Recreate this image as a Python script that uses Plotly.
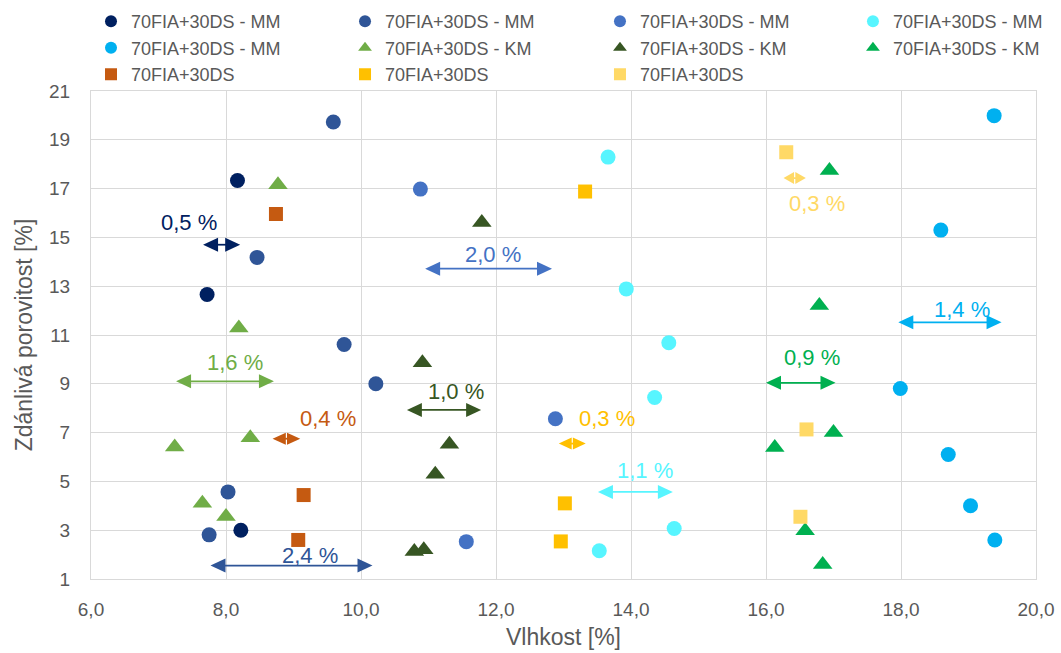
import plotly.graph_objects as go

# ---------------- data ----------------
series_names = ["70FIA+30DS - MM"] * 5 + ["70FIA+30DS - KM"] * 3 + ["70FIA+30DS"] * 3
series_colors = ["#002060", "#2F5597", "#4472C4", "#57F5FF", "#00B0F0",
                 "#70AD47", "#375623", "#00B050",
                 "#C55A11", "#FFC000", "#FFD966"]
series_symbols = ["circle"] * 5 + ["triangle-up"] * 3 + ["square"] * 3

mm1_x = [8.17, 7.72, 8.22]
mm1_y = [17.33, 12.66, 3.00]
mm2_x = [9.59, 8.46, 9.75, 10.22, 8.03, 7.75]
mm2_y = [19.73, 14.18, 10.61, 9.00, 4.57, 2.81]
mm3_x = [10.88, 12.88, 11.56]
mm3_y = [16.98, 7.57, 2.53]
mm4_x = [13.66, 13.93, 14.56, 14.35, 14.64, 13.53]
mm4_y = [18.29, 12.89, 10.68, 8.44, 3.07, 2.16]
mm5_x = [19.38, 18.59, 17.99, 18.70, 19.03, 19.39]
mm5_y = [19.99, 15.30, 8.81, 6.10, 4.00, 2.60]
km1_x = [8.77, 8.19, 8.36, 7.24, 7.65, 8.00]
km1_y = [17.16, 11.29, 6.79, 6.41, 4.10, 3.56]
km2_x = [11.79, 10.91, 11.31, 11.10, 10.79, 10.93]
km2_y = [15.61, 9.86, 6.52, 5.29, 2.13, 2.20]
km3_x = [16.94, 16.79, 17.00, 16.13, 16.58, 16.84]
km3_y = [17.74, 12.21, 7.00, 6.39, 2.98, 1.59]
sq1_x = [8.74, 9.15, 9.07]
sq1_y = [15.96, 4.44, 2.60]
sq2_x = [13.32, 13.02, 12.96]
sq2_y = [16.88, 4.10, 2.54]
sq3_x = [16.30, 16.60, 16.51]
sq3_y = [18.49, 7.13, 3.55]

series_x = [mm1_x, mm2_x, mm3_x, mm4_x, mm5_x, km1_x, km2_x, km3_x, sq1_x, sq2_x, sq3_x]
series_y = [mm1_y, mm2_y, mm3_y, mm4_y, mm5_y, km1_y, km2_y, km3_y, sq1_y, sq2_y, sq3_y]

# range arrows (one per series) and their labels
arrow_labels = ["0,5 %", "2,4 %", "2,0 %", "1,1 %", "1,4 %", "1,6 %", "1,0 %", "0,9 %", "0,4 %", "0,3 %", "0,3 %"]
arrow_x0 = [7.66, 7.77, 10.95, 13.51, 17.96, 7.26, 10.68, 16.00, 8.69, 12.93, 16.26]
arrow_x1 = [8.21, 10.17, 12.83, 14.62, 19.49, 8.71, 11.78, 17.03, 9.10, 13.33, 16.59]
arrow_y = [14.70, 1.55, 13.72, 4.57, 11.52, 9.10, 7.93, 9.04, 6.75, 6.55, 17.43]
label_x = [7.45, 9.24, 11.96, 14.20, 18.90, 8.13, 11.41, 16.68, 9.51, 13.65, 16.75]
label_y = [15.60, 1.98, 14.29, 5.43, 12.04, 9.86, 8.70, 10.09, 7.58, 7.58, 16.41]

x_ticks = [6, 8, 10, 12, 14, 16, 18, 20]
y_ticks = [1, 3, 5, 7, 9, 11, 13, 15, 17, 19, 21]
x_range = [6, 20]
y_range = [1, 21]

FONT = "Liberation Sans, Arial, sans-serif"
GRID = "#D9D9D9"
TXT = "#595959"
MARGIN = dict(l=91, r=25, t=91, b=74, autoexpand=False)
W, H = 1061, 653

# legend laid out as 4 columns (Excel-style grid), one plotly legend per column
legend_ids = ["legend", "legend2", "legend3", "legend4"]
legend_col_x = [0.0, 0.2688, 0.5386, 0.8063]

fig = go.Figure()
for i, (name, col, sym, xs, ys) in enumerate(zip(series_names, series_colors, series_symbols,
                                                  series_x, series_y)):
    size = 15 if sym == "circle" else (17 if sym == "triangle-up" else 14)
    fig.add_trace(go.Scatter(
        x=xs, y=ys, mode="markers", name=name, legend=legend_ids[i % 4],
        marker=dict(color=col, symbol=sym, size=size, line=dict(width=0)),
    ))

# double-headed arrows drawn as line + two pixel-sized triangle heads
plot_w_px = W - MARGIN["l"] - MARGIN["r"]
units_per_px = (x_range[1] - x_range[0]) / plot_w_px
shapes = []
annotations = []
for lab, x0, x1, ay, lx, ly, col in zip(arrow_labels, arrow_x0, arrow_x1, arrow_y,
                                        label_x, label_y, series_colors):
    span_px = (x1 - x0) / units_per_px
    head_len = min(15.0, span_px / 2 - 0.6)
    head_h = 7.0 if span_px > 32 else 6.0
    inset = head_len * 0.5 * units_per_px
    shapes.append(dict(type="line", xref="x", yref="y",
                       x0=x0 + inset, x1=x1 - inset, y0=ay, y1=ay,
                       line=dict(color=col, width=1.75), layer="above"))
    shapes.append(dict(type="path", xref="x", yref="y",
                       xsizemode="pixel", ysizemode="pixel", xanchor=x0, yanchor=ay,
                       path=f"M0,0 L{head_len:.2f},{head_h:.2f} L{head_len:.2f},{-head_h:.2f} Z",
                       fillcolor=col, line=dict(width=0), layer="above"))
    shapes.append(dict(type="path", xref="x", yref="y",
                       xsizemode="pixel", ysizemode="pixel", xanchor=x1, yanchor=ay,
                       path=f"M0,0 L{-head_len:.2f},{head_h:.2f} L{-head_len:.2f},{-head_h:.2f} Z",
                       fillcolor=col, line=dict(width=0), layer="above"))
    annotations.append(dict(
        x=lx, y=ly, xref="x", yref="y", text=lab, showarrow=False,
        font=dict(family=FONT, size=22, color=col),
    ))

legend_style = dict(
    orientation="v", xanchor="left", y=1.180, yanchor="top",
    font=dict(family=FONT, size=18, color=TXT),
    itemsizing="constant", tracegroupgap=0,
    bgcolor="rgba(0,0,0,0)",
)
layout_legends = {lid: dict(legend_style, x=lx) for lid, lx in zip(legend_ids, legend_col_x)}

fig.update_layout(
    width=W, height=H,
    margin=MARGIN,
    paper_bgcolor="white", plot_bgcolor="white",
    separators=", ",
    font=dict(family=FONT, size=19, color=TXT),
    showlegend=True,
    shapes=shapes,
    annotations=annotations,
    **layout_legends,
)
fig.update_xaxes(
    range=x_range, tickvals=x_ticks, tickformat=".1f",
    showgrid=True, gridcolor=GRID, gridwidth=1.3,
    showline=True, linecolor=GRID, linewidth=1.3, mirror=True,
    zeroline=False, ticks="", ticklabelstandoff=13,
    title=dict(text="Vlhkost [%]", standoff=9, font=dict(size=23, color=TXT)),
    tickfont=dict(size=19, color=TXT),
)
fig.update_yaxes(
    range=y_range, tickvals=y_ticks,
    showgrid=True, gridcolor=GRID, gridwidth=1.3,
    showline=True, linecolor=GRID, linewidth=1.3, mirror=True,
    zeroline=False, ticks="", ticklabelstandoff=16,
    title=dict(text="Zdánlivá porovitost [%]", standoff=9, font=dict(size=23, color=TXT)),
    tickfont=dict(size=19, color=TXT),
)

fig.write_html("out.html")
